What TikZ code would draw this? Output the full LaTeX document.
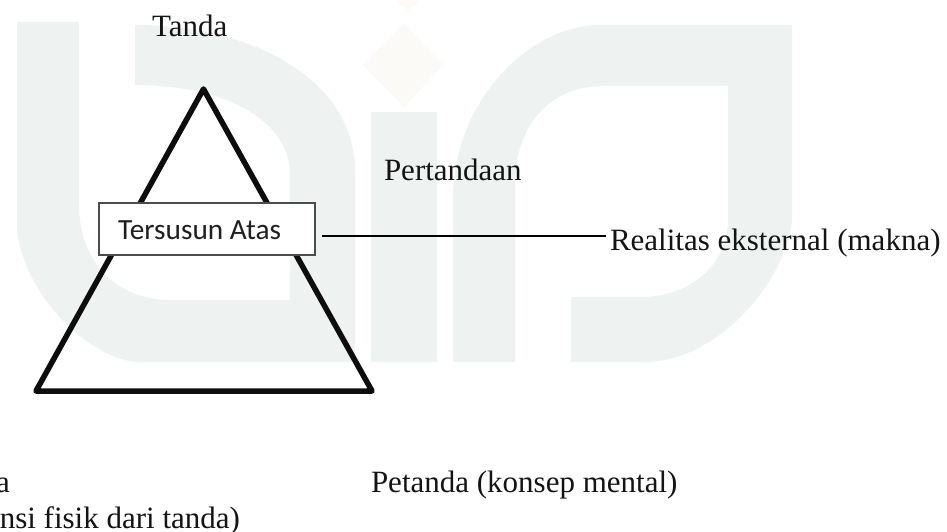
\documentclass[tikz,border=0pt]{standalone}
\usepackage{fontspec}
\setmainfont{Liberation Serif}
\newfontfamily\boxfont{Carlito}
\definecolor{wmgreen}{HTML}{EEF3F1}
\definecolor{wmorange}{HTML}{FCFAF7}
\tikzset{
  lbl/.style={inner sep=0pt,outer sep=0pt,anchor=base west,font=\fontsize{31}{31}\selectfont,text=black!92},
  lble/.style={lbl,anchor=base east},
  boxnode/.style={draw=black!70,line width=1.5pt,fill=white,minimum width=216pt,minimum height=52pt,inner sep=0pt,outer sep=0pt,anchor=north west},
  wm/.style={fill=wmgreen,draw=none},
  tri/.style={draw=black!95,line width=5.5pt,line join=round},
  conn/.style={draw=black,line width=2pt}
}
\begin{document}
\begin{tikzpicture}[x=1pt,y=-1pt]
\useasboundingbox (0,0) rectangle (947,531);
\fill[white] (0,0) rectangle (947,531);
% watermark
\path[wm] (17,22) -- (17,230) .. controls (25,300) and (95,362) .. (140,362) -- (355,362) -- (355,170)
  .. controls (355,85) and (260,25) .. (135,25) -- (135,85) .. controls (225,85) and (290,120) .. (290,175)
  -- (290,300) -- (170,300) .. controls (115,300) and (79,260) .. (79,205) -- (79,22) -- cycle;
\path[wm] (371,112) rectangle (437,362);
\path[wm] (453,362) -- (453,200) .. controls (453,100) and (530,25) .. (600,25) -- (792,25) -- (792,220)
  .. controls (785,285) and (715,362) .. (645,362) -- (571,362) -- (571,297) -- (640,297)
  .. controls (690,297) and (728,265) .. (728,220) -- (728,86) -- (603,86)
  .. controls (550,86) and (515,125) .. (515,185) -- (515,362) -- cycle;
\path[fill=wmorange] (404,23) -- (443,65) -- (404,107) -- (363,65) -- cycle;
\path[fill=wmorange] (408,-8) -- (418,3) -- (408,10) -- (398,3) -- cycle;
% triangle
\coordinate (apex) at (203.5,89);
\coordinate (bl) at (36,391);
\coordinate (br) at (372,391);
\draw[tri] (apex) -- (br) -- (bl) -- cycle;
% box
\node[boxnode] (box) at (99,203) {};
\node[inner sep=0pt,anchor=base west,font=\boxfont\fontsize{29.3}{29.3}\selectfont,text=black!88] (boxtxt) at (118,239) {Tersusun Atas};
% labels
\node[lbl] (tanda) at (152,36) {Tanda};
\node[lbl] (pertandaan) at (384,180) {Pertandaan};
\node[lbl] (realitas) at (610,250.5) {Realitas eksternal (makna)};
\node[lbl] (petanda) at (371,492) {Petanda (konsep mental)};
\node[lble] (penanda) at (10,492) {a};
\node[lble] (eksis) at (240,528) {nsi fisik dari tanda)};
% connector
\coordinate (cstart) at (322,236);
\coordinate (cend) at (606,236);
\draw[conn] (cstart) -- (cend);
\end{tikzpicture}
\end{document}
